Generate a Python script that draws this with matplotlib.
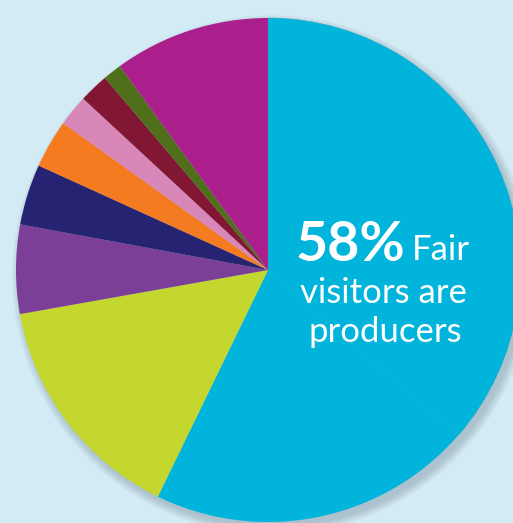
import matplotlib
matplotlib.use("Agg")
import matplotlib.pyplot as plt
from matplotlib.patches import Circle

# Data (percent shares, clockwise from 12 o'clock)
categories = ["Producers A", "Producers B", "Lime", "Purple", "Navy", "Orange",
              "Pink", "Dark red", "Green", "Magenta"]
values = [36.4, 20.8, 15.0, 5.7, 3.9, 3.1, 2.0, 1.9, 1.2, 10.0]
colors = ["#00b4db", "#00b4db", "#c3d72f", "#7c3f97", "#262372", "#f47b20",
          "#d986b8", "#821733", "#4f6f1a", "#ab1f8c"]

headline = "58%"
line1 = "Fair"
line2 = "visitors are"
line3 = "producers"

BG = "#d3ebf5"
W, H = 513, 523
fig = plt.figure(figsize=(W / 100, H / 100), dpi=100, facecolor=BG)
ax = fig.add_axes([0, 0, 1, 1])
ax.set_facecolor(BG)

cx, cy, r = 268, H - 270, 252

# soft shadow (lower right)
for i in range(10):
    ax.add_patch(Circle((cx + 4, cy - 5), r + i * 0.9, facecolor="#5f7380",
                        edgecolor="none", alpha=0.035, zorder=1))

wedges, _ = ax.pie(values, colors=colors, startangle=90, counterclock=False,
                   center=(cx, cy), radius=r, frame=True,
                   wedgeprops=dict(edgecolor="none", linewidth=0))
for w in wedges:
    w.set_zorder(2)
# faint seam between the two producer wedges
wedges[0].set_edgecolor("#22a6c4")
wedges[0].set_linewidth(0.4)
ax.set_xlim(0, W)
ax.set_ylim(0, H)
ax.set_aspect("equal")
ax.axis("off")

fam = ["Lato", "DejaVu Sans"]
ax.text(296, H - 261, headline, color="white", fontsize=40, fontweight="bold",
        family=fam, ha="left", va="baseline", zorder=5)
ax.text(412, H - 260, line1, color="white", fontsize=25, family=fam,
        ha="left", va="baseline", zorder=5)
ax.text(383, H - 303, line2, color="white", fontsize=25, family=fam,
        ha="center", va="baseline", zorder=5)
ax.text(385, H - 342, line3, color="white", fontsize=25, family=fam,
        ha="center", va="baseline", zorder=5)

fig.savefig("out.png", dpi=100, facecolor=BG)
